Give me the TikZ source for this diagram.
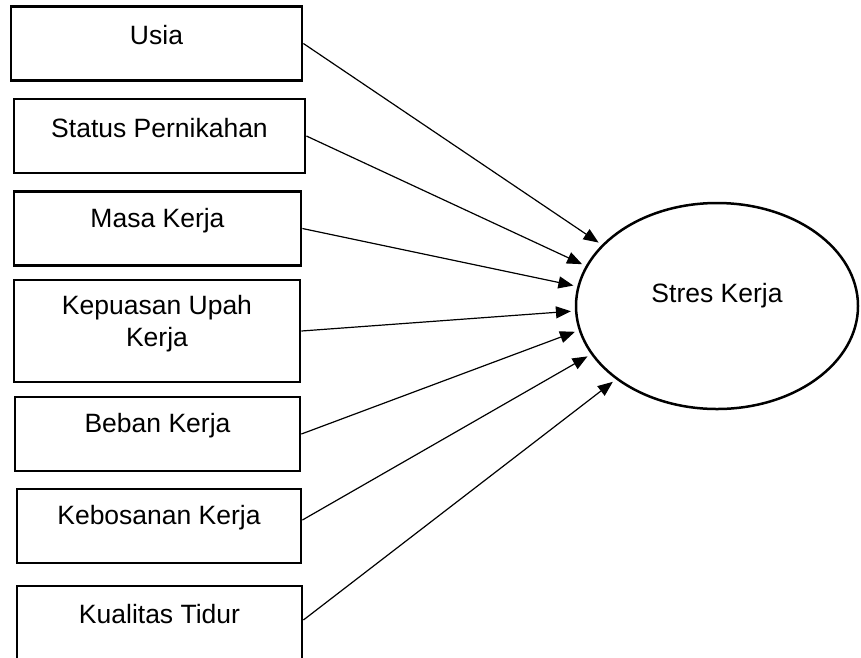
\documentclass[tikz,border=0pt]{standalone}
\usepackage{fontspec}
\setmainfont{Liberation Sans}
\usetikzlibrary{shapes.geometric,arrows.meta}

\begin{document}
\begin{tikzpicture}[x=1pt, y=-1pt,
	kotak/.style={draw, line width=2.8pt, inner sep=0pt, minimum height=74pt},
	teks/.style={font=\fontsize{26.5}{32}\selectfont, align=center, inner sep=0pt},
	panah/.style={line width=1.2pt, -{Triangle[length=15pt,width=12pt]}, shorten >=4pt}]
	\useasboundingbox (0,0) rectangle (861,657); % ukuran gambar
	
	% kotak variabel bebas
	\node[kotak, minimum width=291pt] (usia) at (156.5,43.5) {};
	\node[kotak, minimum width=291pt] (status) at (159.5,136) {};
	\node[kotak, minimum width=287pt] (masa) at (157.5,228.5) {};
	\node[kotak, minimum width=286pt, minimum height=102pt] (upah) at (157,331) {};
	\node[kotak, minimum width=285pt] (beban) at (157.5,434) {};
	\node[kotak, minimum width=284pt] (bosan) at (159,526) {};
	\node[kotak, minimum width=285pt] (tidur) at (159.5,623) {};
	
	\node[teks] (tUsia) at ([yshift=8pt]usia.center) {Usia};
	\node[teks] (tStatus) at ([yshift=8pt]status.center) {Status Pernikahan};
	\node[teks] (tMasa) at ([yshift=8pt]masa.center) {Masa Kerja};
	\node[teks] (tUpah) at ([yshift=7pt]upah.center) {Kepuasan Upah\\Kerja};
	\node[teks] (tBeban) at ([yshift=8pt]beban.center) {Beban Kerja};
	\node[teks] (tBosan) at ([yshift=8pt]bosan.center) {Kebosanan Kerja};
	\node[teks] (tTidur) at ([yshift=9pt]tidur.center) {Kualitas Tidur};
	
	% variabel terikat
	\node[draw, ellipse, line width=2.5pt, minimum width=282pt, minimum height=206pt, inner sep=0pt] (stres) at (717,306) {};
	\node[teks] (tStres) at ([yshift=10pt]stres.center) {Stres Kerja};
	
	% panah
	\draw[panah] (usia.east) -- (stres.152);
	\draw[panah] (status.east) -- (stres.163);
	\draw[panah] (masa.east) -- (stres.172);
	\draw[panah] (upah.east) -- (stres.182);
	\draw[panah] (beban.east) -- (stres.190);
	\draw[panah] ([yshift=6pt]bosan.east) -- (stres.201);
	\draw[panah] ([yshift=3pt]tidur.east) -- (stres.216);
\end{tikzpicture}
\end{document}
